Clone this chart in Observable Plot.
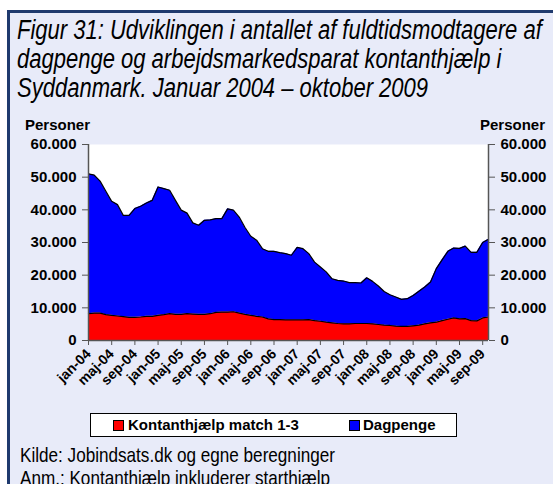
<!DOCTYPE html>
<html><head><meta charset="utf-8">
<script src="https://cdn.jsdelivr.net/npm/d3@7"></script>
<script src="https://cdn.jsdelivr.net/npm/@observablehq/plot@0.6"></script>
<style>
html,body{margin:0;padding:0;background:#fff;width:553px;height:484px;overflow:hidden;position:relative;}
#frame{position:absolute;left:7px;top:10px;width:560px;height:500px;border:3px solid #1F3A6E;background:#E8EBF9;box-sizing:border-box;}
.narrow{font-family:"Liberation Sans",Arial,sans-serif;color:#000;white-space:nowrap;position:absolute;transform:scaleX(0.815);transform-origin:0 0;}
#title{left:17px;top:16px;font-style:italic;font-size:27px;line-height:29px;}
#foot{left:20px;top:443px;font-size:21px;line-height:23px;}
.bold{position:absolute;font-family:"Liberation Sans",Arial,sans-serif;font-weight:bold;font-size:15px;color:#000;white-space:nowrap;}
#chart{position:absolute;left:0;top:110px;}
#legend{position:absolute;left:90px;top:413px;width:367px;height:24px;background:#fff;border:1px solid #000;box-sizing:border-box;}
.sw{position:absolute;width:9px;height:9px;border:1px solid #000;top:6px;}
</style></head>
<body>
<div id="frame"></div>
<div id="title" class="narrow">Figur 31: Udviklingen i antallet af fuldtidsmodtagere af<br>dagpenge og arbejdsmarkedsparat kontanthjælp i<br>Syddanmark. Januar 2004 – oktober 2009</div>
<div class="bold" style="left:25px;top:116px;">Personer</div>
<div class="bold" style="right:8px;top:116px;">Personer</div>
<div id="chart"></div>
<div id="legend"></div>
<div id="foot" class="narrow">Kilde: Jobindsats.dk og egne beregninger<br>Anm.: Kontanthjælp inkluderer starthjælp</div>
<script>
const seriesNames = ["Kontanthjælp match 1-3", "Dagpenge"];
const seriesColors = ["#FF0000", "#0000FF"];
const tickLabels = ["jan-04","maj-04","sep-04","jan-05","maj-05","sep-05","jan-06","maj-06","sep-06","jan-07","maj-07","sep-07","jan-08","maj-08","sep-08","jan-09","maj-09","sep-09"];
const yTicks = [0,10000,20000,30000,40000,50000,60000];
// monthly, jan-04 .. okt-09 (70 months)
const kontanthjaelp = [8200,8400,8400,7900,7700,7500,7300,7100,7100,7200,
7400,7400,7700,7900,8200,8000,8000,8200,8100,8000,
8000,8200,8600,8700,8700,8800,8400,8000,7700,7400,
7200,6600,6400,6400,6300,6300,6300,6300,6400,6100,
5900,5600,5400,5200,5100,5100,5200,5200,5200,5100,
4900,4700,4600,4400,4300,4300,4500,4700,5100,5400,
5600,6100,6500,6900,6600,6700,6100,6000,6900,7200];
const dagpenge = [42800,42200,40400,37800,34900,34100,31000,31200,33300,33900,
34700,35500,39300,38600,37800,34900,31900,30800,27900,27300,
28800,28700,28700,28600,31600,31100,29400,26600,24200,23300,
20900,20700,20900,20500,20300,19800,22200,21800,20200,17900,
16600,15400,13500,13200,13100,12600,12500,12400,14000,13000,
11800,10300,9400,8900,8300,8500,9300,10400,11300,12500,
16400,18600,20800,21400,21600,22200,20900,21000,23100,23800];

const data = [];
kontanthjaelp.forEach((v,i)=>data.push({i, v, series: seriesNames[0]}));
dagpenge.forEach((v,i)=>data.push({i, v, series: seriesNames[1]}));
const n = kontanthjaelp.length;
const loc = d3.formatLocale({decimal:",", thousands:".", grouping:[3], currency:["",""]});
const fmt = loc.format(",");
const axisColor = "#555";

const plot = Plot.plot({
  width: 553, height: 300,
  marginLeft: 88, marginRight: 65, marginTop: 34, marginBottom: 70,
  style: {background:"transparent", fontFamily:"'Liberation Sans', Arial, sans-serif", fontSize:"15px", fontWeight:"bold", color:"#000", overflow:"visible"},
  x: {type:"linear", domain:[0, n-1]},
  y: {domain:[0,60000]},
  color: {domain: seriesNames, range: seriesColors},
  marks: [
    Plot.frame({fill:"white", stroke:null}),
    Plot.areaY(data, {x:"i", y:"v", fill:"series", z:"series", order: seriesNames}),
    Plot.lineY(data, Plot.stackY2({x:"i", y:"v", z:"series", order: seriesNames, stroke:"black", strokeWidth:1.2})),
    Plot.ruleX([0, n-1], {stroke: axisColor, strokeWidth:1.5}),
    Plot.ruleY([0], {stroke: axisColor, strokeWidth:1.5}),
    Plot.axisY({anchor:"left", ticks: yTicks, tickFormat: fmt, tickSize:6, tickPadding:6, label:null, stroke:axisColor}),
    Plot.axisY({anchor:"right", ticks: yTicks, tickFormat: fmt, tickSize:6, tickPadding:6, label:null, stroke:axisColor}),
    Plot.axisX({ticks: tickLabels.map((_,k)=>k*4), tickFormat: d => tickLabels[d/4], tickRotate:-45, tickSize:5, tickPadding:6, label:null, stroke:axisColor, fontSize:14})
  ]
});
document.getElementById("chart").appendChild(plot);

const lg = document.getElementById("legend");
const items = [[22, 37], [258, 272]];
seriesNames.forEach((s,k)=>{
  const sw = document.createElement("div");
  sw.className = "sw"; sw.style.left = items[k][0]+"px"; sw.style.background = seriesColors[k];
  lg.appendChild(sw);
  const t = document.createElement("div");
  t.className = "bold"; t.style.left = items[k][1]+"px"; t.style.top = "2px"; t.textContent = s;
  lg.appendChild(t);
});
</script>
</body></html>
